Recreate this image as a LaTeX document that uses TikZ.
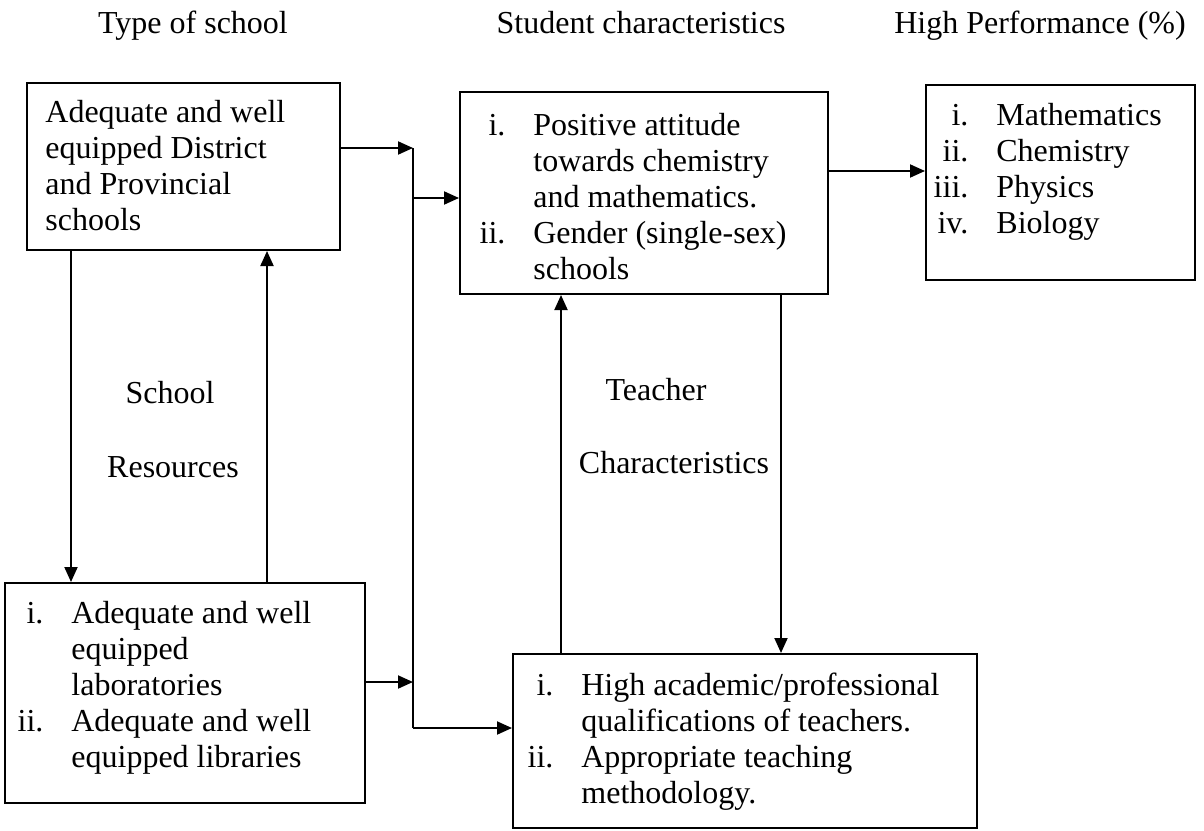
\documentclass[tikz,border=0pt]{standalone}
\usepackage{fontspec}
\setmainfont{Liberation Serif}
\usetikzlibrary{arrows.meta}
\newcommand{\itemno}[1]{\makebox[20pt][r]{#1}\hspace{14pt}}
\newcommand{\itemgap}{\hspace{34pt}}

\begin{document}
\begin{tikzpicture}[x=0.5pt, y=-0.5pt,
     every node/.style={font=\fontsize{16}{18}\selectfont, inner sep=0pt},
     box/.style={shape=rectangle, draw=black, line width=1pt},
     txt/.style={anchor=north west, align=left},
     arr/.style={line width=1pt, -{Triangle[length=7.5pt,width=6.5pt]}}]
     \useasboundingbox (0,0) rectangle (1204,830);

     % headings
     \node[anchor=base] (htype) at (193,33) {Type of school};
     \node[anchor=base] (hstud) at (641,33) {Student characteristics};
     \node[anchor=base] (hperf) at (1040,33) {High Performance (\%)};

     % boxes
     \node[box, minimum width=156.5pt, minimum height=83.5pt] (school) at (183.5,166.5) {};
     \node[box, minimum width=184pt, minimum height=101pt] (student) at (644,193) {};
     \node[box, minimum width=134.5pt, minimum height=97.5pt] (perf) at (1060.5,182.5) {};
     \node[box, minimum width=180pt, minimum height=110pt] (resources) at (185,693) {};
     \node[box, minimum width=232pt, minimum height=87pt] (teacher) at (745,741) {};

     \node[txt] (schooltxt) at (45,97) {\begin{tabular}{@{}l@{}}
          Adequate and well\\ equipped District\\ and Provincial\\ schools\end{tabular}};
     \node[txt] (studenttxt) at (465,110) {\begin{tabular}{@{}l@{}}
          \itemno{i.}Positive attitude\\ \itemgap towards chemistry\\ \itemgap and mathematics.\\
          \itemno{ii.}Gender (single-sex)\\ \itemgap schools\end{tabular}};
     \node[txt] (perftxt) at (928,100) {\begin{tabular}{@{}l@{}}
          \itemno{i.}Mathematics\\ \itemno{ii.}Chemistry\\ \itemno{iii.}Physics\\ \itemno{iv.}Biology\end{tabular}};
     \node[txt] (resourcestxt) at (3,598) {\begin{tabular}{@{}l@{}}
          \itemno{i.}Adequate and well\\ \itemgap equipped\\ \itemgap laboratories\\
          \itemno{ii.}Adequate and well\\ \itemgap equipped libraries\end{tabular}};
     \node[txt] (teachertxt) at (513,670) {\begin{tabular}{@{}l@{}}
          \itemno{i.}High academic/professional\\ \itemgap qualifications of teachers.\\
          \itemno{ii.}Appropriate teaching\\ \itemgap methodology.\end{tabular}};

     % side labels
     \node[anchor=base] (lschool) at (170,403) {School};
     \node[anchor=base] (lres) at (173,477) {Resources};
     \node[anchor=base] (lteach) at (656,400) {Teacher};
     \node[anchor=base] (lchar) at (674,473) {Characteristics};

     % junction points
     \coordinate (jtop) at (413,148);
     \coordinate (jstud) at (413,198);
     \coordinate (jres) at (413,682);
     \coordinate (jbot) at (413,728);
     \coordinate (jperf) at (0,171);
     \coordinate (xdown) at (71,0);
     \coordinate (xup) at (267,0);
     \coordinate (xtup) at (561,0);
     \coordinate (xtdown) at (781,0);

     \draw[arr] (jtop -| school.east) -- (jtop);
     \draw[line width=1pt] (jtop) -- (jbot);
     \draw[arr] (jstud) -- (jstud -| student.west);
     \draw[arr] (jres -| resources.east) -- (jres);
     \draw[arr] (jbot) -- (jbot -| teacher.west);
     \draw[arr] (jperf -| student.east) -- (jperf -| perf.west);

     \draw[arr] (school.south -| xdown) -- (resources.north -| xdown);
     \draw[arr] (resources.north -| xup) -- (school.south -| xup);
     \draw[arr] (teacher.north -| xtup) -- (student.south -| xtup);
     \draw[arr] (student.south -| xtdown) -- (teacher.north -| xtdown);
    \end{tikzpicture}
\end{document}
